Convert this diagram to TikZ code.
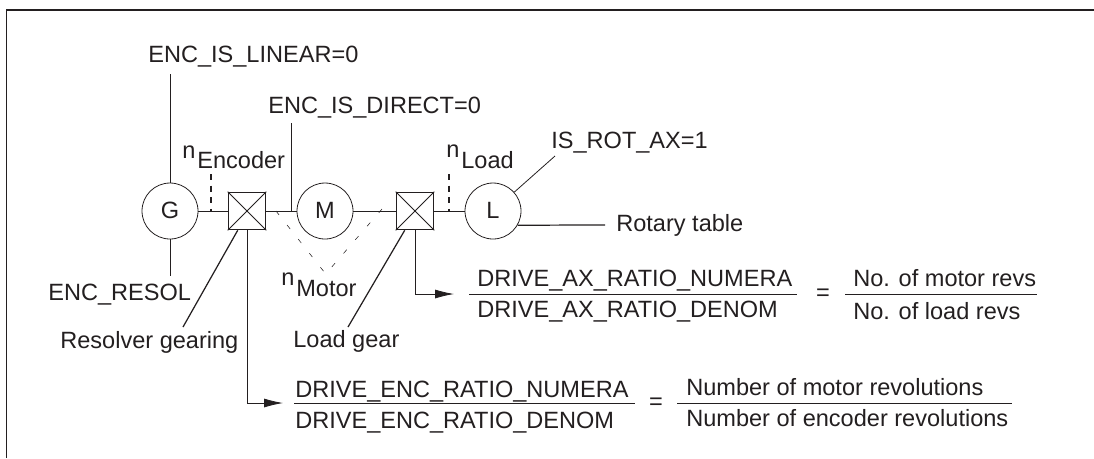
\documentclass[tikz,border=0pt]{standalone}
\usepackage{fontspec}
\setmainfont{Liberation Sans}
\usetikzlibrary{arrows.meta, positioning}
\definecolor{tinta}{HTML}{231F20}
\tikzset{
    rotor/.style={draw=tinta, circle, minimum size=1.12cm, inner sep=0pt, line width=0.45pt},
    gearbox/.style={draw=tinta, minimum size=0.75cm, inner sep=0pt, line width=0.6pt},
    etiqueta/.style={text=tinta, inner sep=0pt, anchor=base west, font=\fontsize{13.4}{15}\selectfont},
    letra/.style={etiqueta, anchor=base},
    linea/.style={draw=tinta, line width=0.45pt},
    gruesa/.style={draw=tinta, line width=0.7pt},
    raya/.style={draw=tinta, line width=0.7pt, dash pattern=on 3.4pt off 3.2pt},
    puntos/.style={draw=tinta, line width=0.3pt, dash pattern=on 2.8pt off 7.4pt},
    flecha/.style={draw=tinta, line width=0.45pt, -{Latex[length=0.38cm,width=0.18cm]}},
    barra/.style={draw=tinta, line width=0.55pt},
}
\begin{document}
\begin{tikzpicture}[x=0.02cm, y=-0.02cm]
\useasboundingbox (0,0) rectangle (1094,458);

% marco
\draw[draw=tinta, line width=1pt] (6.5,458) -- (6.5,10) -- (1094,10);

% eje
\node[rotor] (G) at (170,211) {};
\node[letra] (Gt) at (170,218) {G};
\node[gearbox] (cajaE) at (247,211) {};
\node[rotor] (M) at (325,211) {};
\node[letra] (Mt) at (325,218) {M};
\node[gearbox] (cajaL) at (415,211) {};
\node[rotor] (L) at (493,211) {};
\node[letra] (Lt) at (493,218) {L};
\draw[linea] (cajaE.south west) -- (cajaE.north east);
\draw[linea] (cajaE.north west) -- (cajaE.south east);
\draw[linea] (cajaL.south west) -- (cajaL.north east);
\draw[linea] (cajaL.north west) -- (cajaL.south east);
\draw[linea] (G) -- (cajaE) (cajaE) -- (M) (M) -- (cajaL) (cajaL) -- (L);

% parametros
\node[etiqueta] (lineal) at (148,62) {ENC\_IS\_LINEAR=0};
\node[etiqueta] (directo) at (268,113) {ENC\_IS\_DIRECT=0};
\node[etiqueta] (rotax) at (551,148) {IS\_ROT\_AX=1};
\node[etiqueta] (resol) at (48,300) {ENC\_RESOL};
\node[etiqueta] (resgear) at (60,348) {Resolver gearing};
\node[etiqueta] (cargagear) at (293,347) {Load gear};
\node[etiqueta] (mesa) at (616,231) {Rotary table};
\coordinate (finLineal) at (170,74);
\coordinate (finDirecto) at (291,123);
\coordinate (baseDirecto) at (291,211);
\coordinate (finRot) at (555,156);
\coordinate (finMesa) at (605,225);
\coordinate (finResol) at (170,276);
\draw[linea] (G) -- (finLineal);
\draw[linea] (baseDirecto) -- (finDirecto);
\draw[linea] (L) -- (finRot);
\draw[gruesa] (L.-30) -- (finMesa);
\draw[linea] (G) -- (finResol);
\coordinate (finResGear) at (183,327);
\coordinate (finCarga) at (348,327);
\draw[gruesa] (cajaE.south west) ++(10,0) -- (finResGear);
\draw[gruesa] (cajaL.south west) ++(9,0) -- (finCarga);

% velocidades
\node[etiqueta] (nE) at (182,158) {n};
\node[etiqueta] (encoder) at (197,168) {Encoder};
\node[etiqueta] (nL) at (446,157) {n};
\node[etiqueta] (carga) at (461,168) {Load};
\node[etiqueta] (nM) at (281,285) {n};
\node[etiqueta] (motor) at (296,296) {Motor};
\coordinate (pieE) at (211,211);
\coordinate (topE) at (211,174);
\coordinate (pieL) at (449,211);
\coordinate (topL) at (449,174);
\draw[raya] (topE) -- (pieE);
\draw[raya] (topL) -- (pieL);
\coordinate (vertI) at (325,273);
\coordinate (vertD) at (330,269);
\coordinate (izq) at (276,211);
\coordinate (der) at (382,209);
\draw[puntos] (izq) -- (vertI);
\draw[puntos] (der) -- (vertD);

% relaciones
\node[etiqueta] (axNum) at (477,286) {DRIVE\_AX\_RATIO\_NUMERA};
\node[etiqueta] (axDen) at (477,317) {DRIVE\_AX\_RATIO\_DENOM};
\node[letra] (eq1) at (823,300) {=};
\node[etiqueta] (motorRev) at (853,286) {No. of motor revs};
\node[etiqueta] (cargaRev) at (853,319) {No. of load revs};
\node[etiqueta] (encNum) at (295,397) {DRIVE\_ENC\_RATIO\_NUMERA};
\node[etiqueta] (encDen) at (295,428) {DRIVE\_ENC\_RATIO\_DENOM};
\node[letra] (eq2) at (656,409) {=};
\node[etiqueta] (motorNum) at (686,395) {Number of motor revolutions};
\node[etiqueta] (encRev) at (686,426) {Number of encoder revolutions};
\coordinate (b1a) at (469,294);
\coordinate (b1b) at (797,294);
\coordinate (b2a) at (845,294);
\coordinate (b2b) at (1037,294);
\coordinate (b3a) at (294,403);
\coordinate (b3b) at (635,403);
\coordinate (b4a) at (677,403);
\coordinate (b4b) at (1012,403);
\draw[barra] (b1a) -- (b1b);
\draw[barra] (b2a) -- (b2b);
\draw[barra] (b3a) -- (b3b);
\draw[barra] (b4a) -- (b4b);
\coordinate (p1) at (415,294);
\coordinate (f1) at (454,294);
\coordinate (p2) at (247,403);
\coordinate (f2) at (283,403);
\draw[flecha] (cajaL) -- (p1) -- (f1);
\draw[flecha] (cajaE) -- (p2) -- (f2);
\end{tikzpicture}
\end{document}
